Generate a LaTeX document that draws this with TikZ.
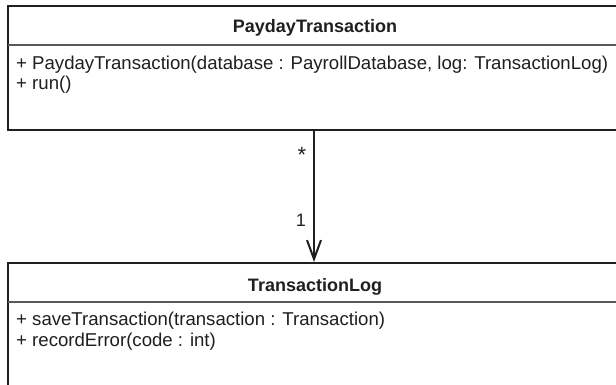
\documentclass[tikz,border=0pt]{standalone}
\usepackage{fontspec}
\setmainfont{Liberation Sans}
\usetikzlibrary{arrows.meta}
\begin{document}
\begin{tikzpicture}[x=1pt,y=-1pt,
  classbox/.style={draw=black!88, line width=2pt, minimum width=614pt, inner sep=0pt},
  divider/.style={draw=black!65, line width=1.1pt},
  classtitle/.style={font=\fontsize{18}{20}\selectfont\bfseries, text=black!88, anchor=base, inner sep=0pt},
  member/.style={font=\fontsize{18.6}{20}\selectfont, text=black!88, anchor=base west, inner sep=0pt},
  mult/.style={font=\fontsize{18}{20}\selectfont, text=black!88, inner sep=0pt},
  assoc/.style={draw=black!88, line width=2pt, -{Straight Barb[length=19pt,width=14pt,line width=2pt]}}]
\useasboundingbox (0,0) rectangle (616,385);
\clip (0,0) rectangle (616,385);
\fill[white] (0,0) rectangle (616,385);
% top class
\node[classbox, minimum height=124pt] (pt) at (315,68) {};
\draw[divider] (8,45) coordinate (pd1) -- (622,45) coordinate (pd2);
\node[classtitle] (ptt) at (315,33) {PaydayTransaction};
\node[member] (ptm1) at (16,70) {+ PaydayTransaction(database : PayrollDatabase, log: TransactionLog)};
\node[member] (ptm2) at (16,90) {+ run()};
% bottom class
\node[classbox, minimum height=157pt] (tl) at (315,341.5) {};
\draw[divider] (8,302) coordinate (td1) -- (622,302) coordinate (td2);
\node[classtitle] (tlt) at (315,291) {TransactionLog};
\node[member] (tlm1) at (16,325) {+ saveTransaction(transaction : Transaction)};
\node[member] (tlm2) at (16,346) {+ recordError(code : int)};
% association
\coordinate (ax) at (314,0);
\draw[assoc] (pt.south -| ax) -- (tl.north -| ax);
\node[mult, font=\fontsize{22}{22}\selectfont] (m1) at (302,155) {*};
\node[mult] (m2) at (301,220) {1};
\end{tikzpicture}
\end{document}
